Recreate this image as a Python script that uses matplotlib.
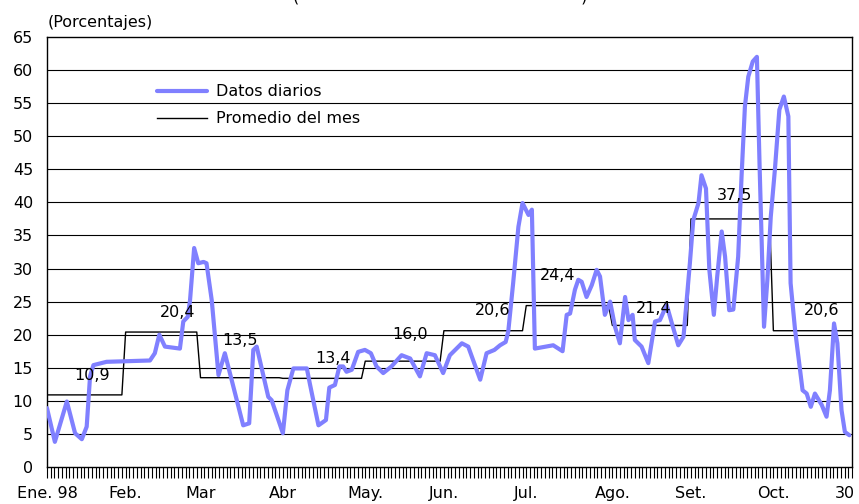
import numpy as np
import matplotlib
matplotlib.use("Agg")
import matplotlib.pyplot as plt
from matplotlib.transforms import ScaledTranslation

plt.rcParams['font.family'] = ['DejaVu Sans']

# dias habiles por mes (Ene. a 30 Oct. 1998) y promedio mensual
meses = ['Ene. 98', 'Feb.', 'Mar', 'Abr', 'May.', 'Jun.', 'Jul.', 'Ago.', 'Set.', 'Oct.']
dias_mes = [21, 20, 22, 22, 21, 22, 23, 21, 22, 22]
promedio = [10.9, 20.4, 13.5, 13.4, 16.0, 20.6, 24.4, 21.4, 37.5, 20.6]
etiquetas_prom = ['10,9', '20,4', '13,5', '13,4', '16,0', '20,6', '24,4', '21,4', '37,5', '20,6']

# datos diarios (indice de dia habil, porcentaje)
dia = [0.0, 2.1, 5.3, 7.5, 9.3, 10.6, 11.5, 12.4, 15.9, 27.5, 28.8, 30.0, 31.5, 35.5,
       36.4, 37.6, 38.2, 39.3, 40.4, 41.8, 42.6, 44.0, 45.8, 47.5, 49.8, 52.4, 54.0,
       55.1, 56.0, 59.1, 60.0, 63.0, 64.2, 65.8, 69.4, 70.2, 72.5, 74.5, 75.4, 76.9,
       78.1, 79.1, 80.0, 81.4, 83.1, 84.9, 86.5, 88.0, 89.8, 92.0, 94.7, 97.0, 99.6,
       101.4, 103.6, 105.8, 107.6, 110.8, 112.5, 115.7, 117.4, 119.5, 121.0, 122.5,
       123.2, 124.5, 125.9, 127.0, 128.6, 129.5, 130.3, 135.2, 137.7, 138.8, 139.7,
       141.0, 141.9, 142.8, 144.1, 145.5, 146.8, 147.7, 149.0, 150.4, 151.7, 153.0,
       154.4, 155.3, 156.4, 157.0, 158.8, 160.6, 162.4, 163.7, 165.5, 166.9, 168.6,
       170.0, 171.7, 172.6, 174.0, 174.8, 176.0, 176.9, 178.1, 179.0, 180.2, 181.1,
       182.2, 183.3, 184.6, 185.5, 186.4, 187.3, 188.5, 189.6, 190.3, 191.5, 192.4,
       193.3, 194.4, 195.6, 196.8, 198.0, 198.6, 199.8, 201.8, 202.9, 204.0, 205.1,
       206.9, 208.2, 209.1, 210.2, 211.1, 212.2, 213.1, 214.3]
diario = [8.9, 3.8, 9.9, 5.1, 4.2, 6.1, 13.7, 15.4, 15.9, 16.1, 17.2, 20.0, 18.2, 17.9,
          22.0, 22.7, 25.2, 33.1, 30.8, 31.0, 30.8, 25.2, 13.9, 17.2, 12.1, 6.3, 6.6,
          17.7, 18.2, 10.6, 10.1, 5.1, 11.6, 14.9, 14.9, 12.6, 6.3, 7.1, 12.0, 12.4,
          15.2, 15.2, 14.4, 14.7, 17.4, 17.7, 17.2, 15.2, 14.2, 15.2, 16.9, 16.4, 13.7,
          17.2, 16.9, 14.2, 16.9, 18.7, 18.2, 13.2, 17.2, 17.7, 18.4, 18.9,
          20.5, 27.8, 36.3, 39.9, 38.1, 38.9, 17.9, 18.4, 17.5, 23.0, 23.2,
          26.8, 28.3, 28.0, 25.7, 27.5, 29.8, 28.8, 23.0, 25.0, 21.2, 18.7,
          25.7, 22.2, 23.0, 19.2, 18.2, 15.7, 22.0, 22.2, 24.5, 21.7, 18.4,
          19.7, 30.8, 37.3, 39.9, 44.1, 42.1, 29.8, 23.0, 28.8, 35.6, 31.8,
          23.7, 23.8, 31.8, 43.9, 54.5, 59.0, 61.3, 62.0, 45.9, 21.2, 28.3,
          37.8, 44.9, 54.0, 56.0, 53.0, 27.8, 20.7, 11.6, 11.1, 9.1, 11.1,
          9.4, 7.6, 11.6, 21.7, 18.7, 8.6, 5.3, 4.8]

# posicion de las etiquetas del promedio (dia, altura)
lab_dia = [12, 35, 51.5, 76.5, 97, 119, 136.5, 162, 183.5, 207]
lab_y = [13.9, 23.3, 19.1, 16.4, 20.0, 23.7, 28.9, 24.0, 41.1, 23.7]

n_dias = sum(dias_mes)
inicio_mes = np.concatenate([[0], np.cumsum(dias_mes)[:-1]])
x_prom = np.arange(n_dias)
y_prom = np.repeat(promedio, dias_mes)

fig = plt.figure(figsize=(8.59, 5.04), dpi=100)
ax = fig.add_axes([47 / 859, 1 - 467 / 504, 805 / 859, 430 / 504])

for v in range(5, 65, 5):
    ax.axhline(v, color='black', lw=0.8, zorder=1)

ax.plot(dia, diario, color='#8080ff', lw=3, solid_joinstyle='round',
        solid_capstyle='round', label='Datos diarios', zorder=3)
ax.plot(x_prom, y_prom, color='black', lw=1, label='Promedio del mes', zorder=2)

for xl, yl, t in zip(lab_dia, lab_y, etiquetas_prom):
    ax.text(xl, yl, t, ha='center', va='center', fontsize=11.5, zorder=4)

ax.set_xlim(0, n_dias - 1)
ax.set_ylim(0, 65)
ax.set_yticks(range(0, 70, 5))
ax.set_xticks(list(inicio_mes) + [n_dias - 1])
ax.set_xticklabels(meses + ['30'])
ax.set_xticks(np.arange(n_dias), minor=True)
ax.tick_params(axis='x', which='both', direction='out', length=8, width=0.8,
               labelsize=11.5, pad=6)
ax.tick_params(axis='y', length=0, labelsize=11.5, pad=10)
for s in ax.spines.values():
    s.set_color('black')
    s.set_linewidth(1)

# el "30" final se corre un poco a la izquierda para que no se corte
ult = ax.get_xticklabels()[-1]
ult.set_transform(ult.get_transform() + ScaledTranslation(-5 / 72, 0, fig.dpi_scale_trans))

ax.legend(loc='upper left', bbox_to_anchor=(0.137, 0.89), frameon=False,
          fontsize=11.5, handlelength=3.1, handletextpad=0.6, labelspacing=0.75,
          borderpad=0, borderaxespad=0)

fig.text(48 / 859, 1 - 23 / 504, '(Porcentajes)', fontsize=11.5, va='center')
fig.text(0.512, 0.997, '(' + ' ' * 55 + ')', fontsize=11.5, ha='center', va='baseline')

fig.savefig('out.png', dpi=100)
